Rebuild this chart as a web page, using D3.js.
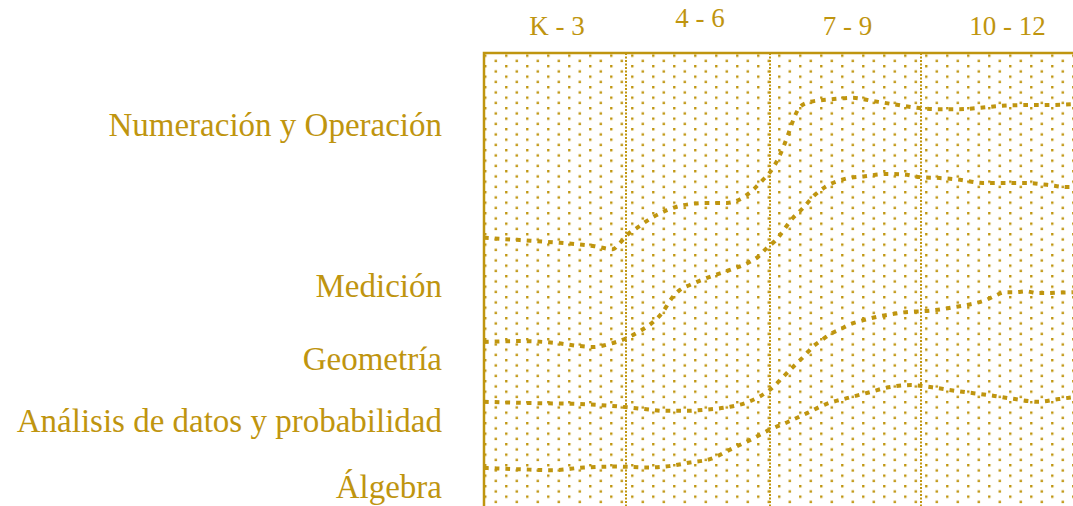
<!DOCTYPE html>
<meta charset="utf-8">
<style>

body {
  margin: 0;
  background: #fff;
}

.label,
.band {
  font-family: "Liberation Serif", "Times New Roman", serif;
  fill: #bf950f;
}

.label {
  font-size: 33px;
}

.band {
  font-size: 27px;
}

.frame {
  fill: none;
  stroke: #bf950f;
  stroke-width: 2.5px;
}

.divider {
  stroke: #bf950f;
  stroke-width: 2px;
  stroke-dasharray: 2, 1.5;
}

.curve {
  fill: none;
  stroke: #bf950f;
  stroke-width: 4px;
  stroke-dasharray: 4.7, 6;
}

</style>
<svg width="1073" height="506"></svg>
<script src="https://d3js.org/d3.v7.min.js"></script>
<script>

// grade bands along the top
var bands = ["K - 3", "4 - 6", "7 - 9", "10 - 12"];

// content standards, top to bottom
var standards = ["Numeración y Operación", "Medición", "Geometría",
                 "Análisis de datos y probabilidad", "Álgebra"];

// boundaries between the standards: [grade position, % from top]
var numMed = [[0,40.8],[0.254,41.3],[0.535,41.9],[0.768,42.6],[0.908,43.3],[0.958,41.9],[1.007,40.2],
  [1.076,38.6],[1.188,36.2],[1.285,34.7],[1.396,33.6],[1.563,33.1],[1.701,33.1],[1.778,32.5],[1.882,30.2],
  [1.951,28.0],[2.0,26.3],[2.066,22.5],[2.119,18.1],[2.146,15.5],[2.199,11.9],[2.265,10.8],[2.411,10.2],
  [2.55,9.9],[2.682,10.6],[2.815,11.3],[2.974,12.1],[3.095,12.4],[3.219,12.4],[3.349,12.1],[3.467,11.7],
  [3.604,11.5],[3.722,11.5],[3.899,11.3]];

var medGeo = [[0,63.8],[0.254,63.6],[0.5,64.0],[0.676,64.7],[0.768,64.9],[0.887,64.2],[1.007,62.9],
  [1.097,61.4],[1.188,59.4],[1.25,57.4],[1.319,54.1],[1.375,52.3],[1.444,51.2],[1.583,49.4],[1.722,47.9],
  [1.861,46.1],[1.917,45.0],[1.979,43.0],[2.033,41.5],[2.152,36.4],[2.219,34.2],[2.298,31.3],[2.364,29.6],
  [2.497,27.8],[2.629,27.2],[2.775,26.7],[2.907,26.9],[2.993,27.4],[3.112,27.6],[3.231,28.0],[3.367,28.7],
  [3.485,28.7],[3.627,28.7],[3.746,29.1],[3.864,29.6],[3.899,29.6]];

var geoDat = [[0,77.0],[0.373,77.3],[0.676,77.5],[0.901,77.9],[1.128,78.6],[1.271,79.0],[1.417,79.0],
  [1.563,78.7],[1.722,78.1],[1.851,77.0],[1.993,74.5],[2.137,69.8],[2.232,66.7],[2.285,64.8],[2.342,63.4],
  [2.402,62.0],[2.464,61.0],[2.53,59.9],[2.596,59.2],[2.662,58.6],[2.728,58.1],[2.799,57.7],[2.872,57.3],
  [2.938,57.1],[3.01,57.0],[3.073,56.8],[3.136,56.5],[3.197,56.1],[3.26,55.7],[3.325,55.2],[3.385,54.5],
  [3.438,53.6],[3.497,52.8],[3.562,52.8],[3.621,52.6],[3.685,53.0],[3.747,53.0],[3.812,52.9],[3.899,52.8]];

var datAlg = [[0,91.6],[0.259,91.9],[0.478,92.1],[0.704,91.5],[0.93,91.3],[1.155,91.5],[1.299,91.2],
  [1.444,90.4],[1.588,89.6],[1.719,87.6],[1.864,85.4],[1.995,83.2],[2.121,81.4],[2.245,79.5],[2.371,77.5],
  [2.509,76.2],[2.647,75.0],[2.785,73.8],[2.935,73.3],[3.065,73.8],[3.188,74.5],[3.311,75.1],[3.434,75.7],
  [3.556,76.4],[3.692,77.0],[3.815,76.4],[3.899,76.0]];

var curves = [numMed, medGeo, geoDat, datAlg];

var svg = d3.select("svg"),
    gold = "#bf950f";

var x = d3.scaleLinear()
    .domain([0, 1, 2, 3, 4])
    .range([484, 626, 770, 921, 1090]);

var y = d3.scaleLinear()
    .domain([0, 100])
    .range([53, 506]);

// dotted background
var defs = svg.append("defs");
var pat = defs.append("pattern")
    .attr("id", "dots")
    .attr("patternUnits", "userSpaceOnUse")
    .attr("x", 484.1)
    .attr("y", 54.5)
    .attr("width", 21)
    .attr("height", 10.5);
pat.append("rect").attr("x", 0).attr("y", 0).attr("width", 2.4).attr("height", 2.4).attr("fill", gold);
pat.append("rect").attr("x", 10.5).attr("y", 5.25).attr("width", 2.4).attr("height", 2.4).attr("fill", gold);

svg.append("rect")
    .attr("x", x(0))
    .attr("y", y(0))
    .attr("width", x(4) - x(0))
    .attr("height", y(100) - y(0) + 20)
    .attr("fill", "url(#dots)");

// band dividers
svg.selectAll(".divider")
  .data([1, 2, 3])
  .enter().append("line")
    .attr("class", "divider")
    .attr("x1", x)
    .attr("x2", x)
    .attr("y1", y(0))
    .attr("y2", y(100) + 10);

// frame: only top and left edges are inside the picture
svg.append("path")
    .attr("class", "frame")
    .attr("d", "M" + x(0) + "," + (y(100) + 10) + "V" + y(0) + "H" + x(4));

var line = d3.line()
    .x(function(d) { return x(d[0]); })
    .y(function(d) { return y(d[1]); })
    .curve(d3.curveMonotoneX);

svg.selectAll(".curve")
  .data(curves)
  .enter().append("path")
    .attr("class", "curve")
    .attr("d", line);

// grade band headers (4 - 6 sits a bit higher)
var bandBaseline = [35, 27, 34.5, 34.5];
svg.selectAll(".band")
  .data(bands)
  .enter().append("text")
    .attr("class", "band")
    .attr("text-anchor", "middle")
    .attr("x", function(d, i) { return x(i + 0.5) + 2; })
    .attr("y", function(d, i) { return bandBaseline[i]; })
    .text(function(d) { return d; });

// standard labels on the left
var labelBaseline = [136, 297, 370, 432, 498];
svg.selectAll(".label")
  .data(standards)
  .enter().append("text")
    .attr("class", "label")
    .attr("text-anchor", "end")
    .attr("x", 442)
    .attr("y", function(d, i) { return labelBaseline[i]; })
    .text(function(d) { return d; });

</script>
